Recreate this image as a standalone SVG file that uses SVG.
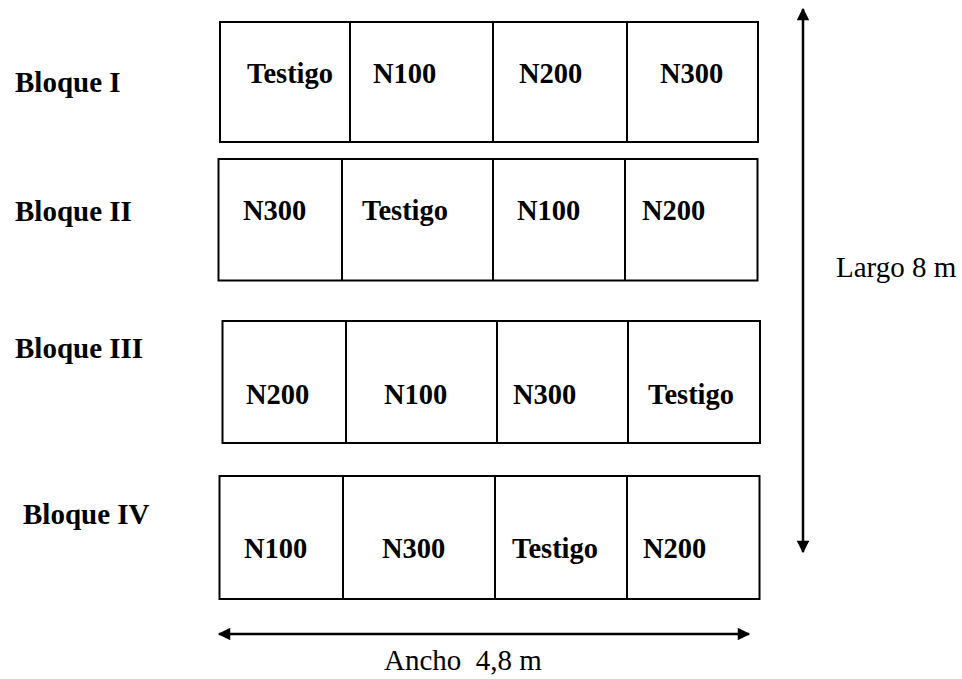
<svg xmlns="http://www.w3.org/2000/svg" width="962" height="679" viewBox="0 0 962 679">
<style>
.cell{fill:#fff;stroke:#000;stroke-width:2}
.div{stroke:#000;stroke-width:2}
.t{font-family:'Liberation Serif','Times New Roman',Times,'DejaVu Serif',serif;font-weight:bold;font-size:28.5px;fill:#000}
.lbl{font-family:'Liberation Serif','Times New Roman',Times,'DejaVu Serif',serif;font-weight:bold;font-size:29px;fill:#000}
.dim{font-family:'Liberation Serif','Times New Roman',Times,'DejaVu Serif',serif;font-size:29px;fill:#000}
.arr{stroke:#000;stroke-width:2.5;fill:none}
</style>
<defs>
<marker id="ah" viewBox="0 0 10 10" refX="9" refY="5" markerWidth="6" markerHeight="5" markerUnits="strokeWidth" orient="auto-start-reverse">
<path d="M0,0 L10,5 L0,10 Z" fill="#000"/>
</marker>
</defs>
<rect width="962" height="679" fill="#fff"/>
<g id="labels">
<text class="lbl" x="15" y="92">Bloque I</text>
<text class="lbl" x="15" y="221">Bloque II</text>
<text class="lbl" x="15" y="358">Bloque III</text>
<text class="lbl" x="23" y="524">Bloque IV</text>
</g>
<g id="bloque1">
<rect class="cell" x="220" y="22" width="538" height="120"/>
<line class="div" x1="350" y1="22" x2="350" y2="142"/>
<line class="div" x1="493" y1="22" x2="493" y2="142"/>
<line class="div" x1="627" y1="22" x2="627" y2="142"/>
<text class="t" x="247" y="83">Testigo</text>
<text class="t" x="373" y="83">N100</text>
<text class="t" x="519" y="83">N200</text>
<text class="t" x="660" y="83">N300</text>
</g>
<g id="bloque2">
<rect class="cell" x="218.5" y="159" width="539" height="121.5"/>
<line class="div" x1="342" y1="159" x2="342" y2="280.5"/>
<line class="div" x1="493" y1="159" x2="493" y2="280.5"/>
<line class="div" x1="625" y1="159" x2="625" y2="280.5"/>
<text class="t" x="243" y="220">N300</text>
<text class="t" x="362" y="220">Testigo</text>
<text class="t" x="517" y="220">N100</text>
<text class="t" x="642" y="220">N200</text>
</g>
<g id="bloque3">
<rect class="cell" x="222.5" y="321" width="537.5" height="122"/>
<line class="div" x1="346" y1="321" x2="346" y2="443"/>
<line class="div" x1="497" y1="321" x2="497" y2="443"/>
<line class="div" x1="628" y1="321" x2="628" y2="443"/>
<text class="t" x="246" y="404">N200</text>
<text class="t" x="384" y="404">N100</text>
<text class="t" x="513" y="404">N300</text>
<text class="t" x="648" y="404">Testigo</text>
</g>
<g id="bloque4">
<rect class="cell" x="219.5" y="476" width="540" height="123"/>
<line class="div" x1="343" y1="476" x2="343" y2="599"/>
<line class="div" x1="495" y1="476" x2="495" y2="599"/>
<line class="div" x1="627" y1="476" x2="627" y2="599"/>
<text class="t" x="244" y="558">N100</text>
<text class="t" x="382" y="558">N300</text>
<text class="t" x="512" y="558">Testigo</text>
<text class="t" x="643" y="558">N200</text>
</g>
<g id="connectors">
<line class="arr" x1="803" y1="9" x2="803" y2="552" marker-start="url(#ah)" marker-end="url(#ah)"/>
<line class="arr" x1="219" y1="634" x2="749" y2="634" marker-start="url(#ah)" marker-end="url(#ah)"/>
</g>
<g id="dims">
<text class="dim" x="836" y="277">Largo 8 m</text>
<text class="dim" x="384" y="670" xml:space="preserve">Ancho  4,8 m</text>
</g>
</svg>
